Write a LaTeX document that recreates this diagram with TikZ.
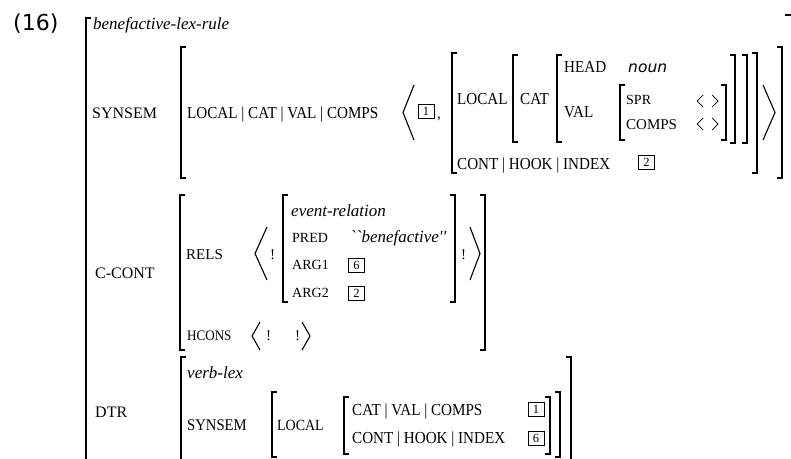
\documentclass[tikz,border=0pt]{standalone}
\usepackage{fontspec}
\setmainfont{Liberation Serif}
\newfontfamily\condf{Liberation Serif}[FakeStretch=0.9]
\newfontfamily\dvs{DejaVu Sans}
\newcommand\brL[3]{\draw[brk] ({#1+5},#2) -- (#1,#2) -- (#1,#3) -- ({#1+5},#3);}
\newcommand\brR[3]{\draw[brk] ({#1-5},#2) -- (#1,#2) -- (#1,#3) -- ({#1-5},#3);}
% angle: tip x, open x, top, bottom
\newcommand\angB[4]{\draw[ang] (#2,#3) -- (#1,{(#3+#4)/2}) -- (#2,#4);}
\newcommand\sangB[4]{\draw[sang] (#2,#3) -- (#1,{(#3+#4)/2}) -- (#2,#4);}
\begin{document}
\begin{tikzpicture}[x=1pt,y=-1pt,
  txt/.style={inner sep=0pt, anchor=base west},
  lbl/.style={txt, font=\fontsize{15}{18}\selectfont},
  feat/.style={txt, font=\condf\fontsize{16.8}{19}\selectfont},
  toplbl/.style={txt, font=\fontsize{16}{19}\selectfont},
  sml/.style={txt, font=\fontsize{14}{17}\selectfont},
  typ/.style={txt, font=\fontsize{17}{20}\selectfont\itshape},
  tag/.style={draw, line width=0.8pt, inner sep=0pt, minimum width=16pt, minimum height=14pt, font=\fontsize{12.5}{14}\selectfont},
  brk/.style={line width=1.2pt},
  ang/.style={line width=1.1pt},
  sang/.style={line width=0.7pt}
]
\useasboundingbox (0,0) rectangle (791,458);

% outer structure
\node[txt, font=\dvs\fontsize{22}{26}\selectfont] (num) at (13,30) {(16)};
\draw[brk] (91,18) -- (86,18) -- (86,470);
\draw[brk] (785,15) -- (796,15);
\node[typ] (type) at (93,29) {benefactive-lex-rule};

% SYNSEM
\node[toplbl] (synsem) at (92,118) {SYNSEM};
\brL{181}{47}{178}
\brR{782}{47}{178}
\node[feat] (path) at (187,118.5) {LOCAL | CAT | VAL | COMPS};
\angB{403}{414}{85}{140}
\node[tag] (t1) at (426,111) {1};
\node[lbl] (comma) at (437,118) {,};
\brL{452}{53}{173}
\brR{757}{53}{173}
\node[feat] (local) at (457,104.5) {LOCAL};
\brL{513}{55}{142}
\brR{747}{55}{143}
\node[feat] (cat) at (520,104.5) {CAT};
\brL{557}{55}{142}
\brR{735}{55}{143}
\node[feat] (head) at (564,72.5) {HEAD};
\node[txt, font=\dvs\itshape\fontsize{15.5}{18}\selectfont] (noun) at (628,72) {noun};
\node[feat] (val) at (564,117.5) {VAL};
\brL{620}{85}{140}
\brR{726}{85}{140}
\node[sml] (spr) at (626,104.5) {SPR};
\node[lbl] (comps) at (626,129) {COMPS};
\sangB{697}{703}{95}{107}
\sangB{718}{712}{95}{107}
\sangB{697}{703}{118}{130}
\sangB{718}{712}{118}{130}
\angB{775}{763}{85}{140}
\node[feat] (cont) at (457,169) {CONT | HOOK | INDEX};
\node[tag] (t2) at (646.5,162.5) {2};

% C-CONT
\node[toplbl] (ccont) at (95,278) {C-CONT};
\brL{180}{195}{350}
\brR{485}{195}{350}
\node[lbl] (rels) at (186,259) {RELS};
\angB{255}{267}{227}{280}
\node[lbl] (bang1) at (270,259) {!};
\brL{283}{195}{302}
\brR{455}{195}{302}
\node[typ] (evrel) at (291,216) {event-relation};
\node[sml] (pred) at (292,242) {PRED};
\node[typ] (predv) at (350,242) {\addfontfeature{Ligatures=TeXOff}``benefactive''};
\node[sml] (arg1) at (292,269.5) {ARG1};
\node[tag] (t6a) at (356.5,265) {6};
\node[sml] (arg2) at (292,297.5) {ARG2};
\node[tag] (t2a) at (356.5,293) {2};
\node[lbl] (bang2) at (461,259) {!};
\angB{480}{470}{227}{280}
\node[txt, font=\condf\fontsize{14.5}{16}\selectfont] (hcons) at (187,340) {HCONS};
\angB{252}{260}{322}{350}
\node[lbl] (bang3) at (266,340) {!};
\node[lbl] (bang4) at (295,340) {!};
\angB{310}{302}{322}{350}

% DTR
\node[toplbl] (dtr) at (95,417) {DTR};
\brL{181}{357}{470}
\brR{571}{357}{470}
\node[typ] (vlex) at (187,378) {verb-lex};
\node[feat, font=\condf\fontsize{16.3}{19}\selectfont] (synsem2) at (187,430.5) {SYNSEM};
\brL{272}{392}{457}
\brR{560}{392}{457}
\node[feat, font=\condf\fontsize{15.5}{18}\selectfont] (local2) at (277,430.5) {LOCAL};
\brL{344}{397}{454}
\brR{550}{397}{454}
\node[feat] (path2) at (352,415.5) {CAT | VAL | COMPS};
\node[feat] (path3) at (352,443.5) {CONT | HOOK | INDEX};
\node[tag] (t1b) at (536,409.5) {1};
\node[tag] (t6b) at (536,438.5) {6};
\end{tikzpicture}
\end{document}
